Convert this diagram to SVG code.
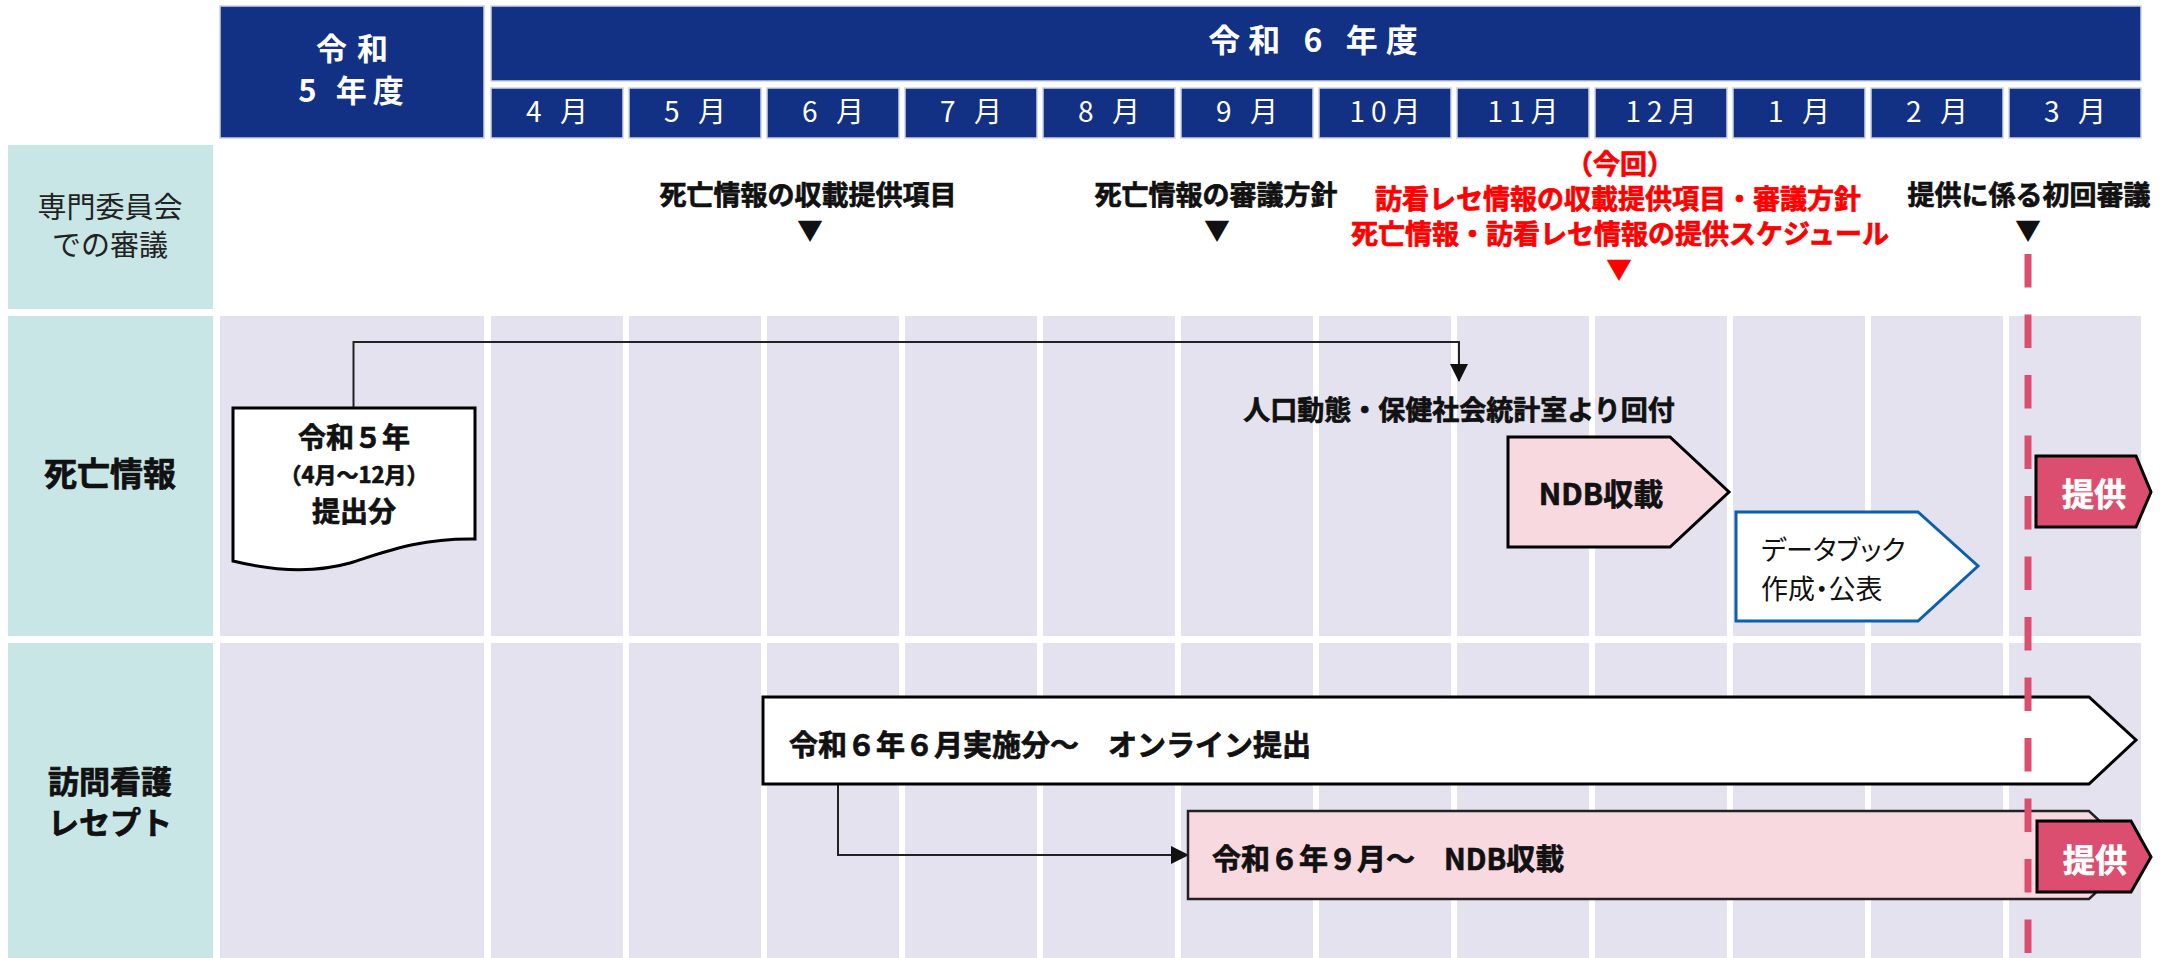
<svg xmlns="http://www.w3.org/2000/svg" width="2167" height="958" viewBox="0 0 2167 958">
<defs>
<style>
text{font-family:"Noto Sans CJK JP","Noto Sans",sans-serif;dominant-baseline:central;text-anchor:middle}
.hd{fill:#133184;stroke:#CBD2E6;stroke-width:1.5}
.hdt{fill:#fff;font-weight:700;font-size:31px}
.mt{fill:#fff;font-size:28px;letter-spacing:6px}
.lab{fill:#C8E6E6}
.cell{fill:#E4E2EE}
.b{font-weight:700;fill:#111;stroke:#111;stroke-width:0.7}
.r1{font-size:27px}
.red{fill:#FF0000;stroke:#FF0000}
.tri{font-size:26px;fill:#111;stroke:none}
.conn{fill:none;stroke:#222;stroke-width:2}
.tk{fill:#fff;font-weight:700;font-size:32px;stroke:#fff;stroke-width:0.7}
.teikyo{fill:#DC4E6F;stroke:#000;stroke-width:3}
</style>
<marker id="arr" markerUnits="userSpaceOnUse" markerWidth="18" markerHeight="18" viewBox="0 0 18 18" refX="17" refY="9" orient="auto">
<path d="M0,0 L18,9 L0,18 Z" fill="#111"/>
</marker>
</defs>
<rect width="2167" height="958" fill="#fff"/>

<g id="header">
<rect class="hd" x="220" y="6" width="264" height="132"/>
<text class="hdt"><tspan x="357" y="46" style="letter-spacing:10px">令和</tspan><tspan x="354" y="88" style="letter-spacing:6px">5 年度</tspan></text>
<rect class="hd" x="491" y="6" width="1650" height="75"/>
<text class="hdt" x="1317" y="38" style="letter-spacing:8px;font-size:32px">令和 6 年度</text>
<g id="months">
<rect class="hd" x="491" y="88" width="132" height="50"/><text class="mt" x="560" y="110">4 月</text>
<rect class="hd" x="629" y="88" width="132" height="50"/><text class="mt" x="698" y="110">5 月</text>
<rect class="hd" x="767" y="88" width="132" height="50"/><text class="mt" x="836" y="110">6 月</text>
<rect class="hd" x="905" y="88" width="132" height="50"/><text class="mt" x="974" y="110">7 月</text>
<rect class="hd" x="1043" y="88" width="132" height="50"/><text class="mt" x="1112" y="110">8 月</text>
<rect class="hd" x="1181" y="88" width="132" height="50"/><text class="mt" x="1250" y="110">9 月</text>
<rect class="hd" x="1319" y="88" width="132" height="50"/><text class="mt" x="1388" y="110">10月</text>
<rect class="hd" x="1457" y="88" width="132" height="50"/><text class="mt" x="1526" y="110">11月</text>
<rect class="hd" x="1595" y="88" width="132" height="50"/><text class="mt" x="1664" y="110">12月</text>
<rect class="hd" x="1733" y="88" width="132" height="50"/><text class="mt" x="1802" y="110">1 月</text>
<rect class="hd" x="1871" y="88" width="132" height="50"/><text class="mt" x="1940" y="110">2 月</text>
<rect class="hd" x="2009" y="88" width="132" height="50"/><text class="mt" x="2078" y="110">3 月</text>
</g>
</g>

<g id="row-labels">
<rect class="lab" x="8" y="145" width="205" height="164"/>
<text style="font-size:29px;fill:#222"><tspan x="110" y="205">専門委員会</tspan><tspan x="110" y="243">での審議</tspan></text>
<rect class="lab" x="8" y="316" width="205" height="320"/>
<text class="b" x="110" y="472" style="font-size:33px">死亡情報</text>
<rect class="lab" x="8" y="643" width="205" height="315"/>
<text class="b" style="font-size:31px"><tspan x="110" y="779">訪問看護</tspan><tspan x="110" y="820">レセプト</tspan></text>
</g>

<g id="grid">
<rect class="cell" x="220" y="316" width="264" height="320"/>
<rect class="cell" x="491" y="316" width="132" height="320"/>
<rect class="cell" x="629" y="316" width="132" height="320"/>
<rect class="cell" x="767" y="316" width="132" height="320"/>
<rect class="cell" x="905" y="316" width="132" height="320"/>
<rect class="cell" x="1043" y="316" width="132" height="320"/>
<rect class="cell" x="1181" y="316" width="132" height="320"/>
<rect class="cell" x="1319" y="316" width="132" height="320"/>
<rect class="cell" x="1457" y="316" width="132" height="320"/>
<rect class="cell" x="1595" y="316" width="132" height="320"/>
<rect class="cell" x="1733" y="316" width="132" height="320"/>
<rect class="cell" x="1871" y="316" width="132" height="320"/>
<rect class="cell" x="2009" y="316" width="132" height="320"/>
<rect class="cell" x="220" y="643" width="264" height="315"/>
<rect class="cell" x="491" y="643" width="132" height="315"/>
<rect class="cell" x="629" y="643" width="132" height="315"/>
<rect class="cell" x="767" y="643" width="132" height="315"/>
<rect class="cell" x="905" y="643" width="132" height="315"/>
<rect class="cell" x="1043" y="643" width="132" height="315"/>
<rect class="cell" x="1181" y="643" width="132" height="315"/>
<rect class="cell" x="1319" y="643" width="132" height="315"/>
<rect class="cell" x="1457" y="643" width="132" height="315"/>
<rect class="cell" x="1595" y="643" width="132" height="315"/>
<rect class="cell" x="1733" y="643" width="132" height="315"/>
<rect class="cell" x="1871" y="643" width="132" height="315"/>
<rect class="cell" x="2009" y="643" width="132" height="315"/>
</g>

<g id="committee">
<text class="b r1" x="808" y="193">死亡情報の収載提供項目</text>
<text class="tri" x="810" y="228">▼</text>
<text class="b r1" x="1216" y="193">死亡情報の審議方針</text>
<text class="tri" x="1217" y="228">▼</text>
<text class="b r1 red"><tspan x="1620" y="162">（今回）</tspan><tspan x="1618" y="197">訪看レセ情報の収載提供項目・審議方針</tspan><tspan x="1620" y="232">死亡情報・訪看レセ情報の提供スケジュール</tspan></text>
<text class="tri" x="1619" y="267" style="fill:#FF0000">▼</text>
<text class="b r1" x="2029" y="193">提供に係る初回審議</text>
<text class="tri" x="2028" y="228">▼</text>
</g>

<g id="connectors">
<path class="conn" d="M353.5,408 V342 H1459 V381" marker-end="url(#arr)"/>
<path class="conn" d="M838,784 V855 H1188" marker-end="url(#arr)"/>
</g>

<g id="doc-r5">
<path d="M233,408 H475 V539 C420,538 385,552 350,563 C318,572 282,573 233,561 Z" fill="#fff" stroke="#000" stroke-width="3"/>
<text class="b"><tspan x="354" y="436" style="font-size:28px">令和５年</tspan><tspan x="354" y="473" style="font-size:22px">（4月～12月）</tspan><tspan x="354" y="510" style="font-size:28px">提出分</tspan></text>
</g>

<g id="label-kaifu">
<text class="b r1" x="1459" y="408">人口動態・保健社会統計室より回付</text>
</g>

<g id="ndb-death">
<path d="M1508,437 H1670 L1729,492 L1670,547 H1508 Z" fill="#F8D9E0" stroke="#000" stroke-width="3"/>
<text class="b" x="1601" y="492" style="font-size:30px">NDB収載</text>
</g>

<g id="databook">
<path d="M1736,512 H1918 L1978,566 L1918,621 H1736 Z" fill="#fff" stroke="#0B5FB0" stroke-width="3"/>
<text style="font-size:27px;fill:#111;text-anchor:start;font-feature-settings:'palt'"><tspan x="1761" y="548">データブック</tspan><tspan x="1761" y="587">作成・公表</tspan></text>
</g>

<g id="online">
<path d="M763,697 H2089 L2136,740 L2089,784 H763 Z" fill="#fff" stroke="#000" stroke-width="3"/>
<text class="b" x="789" y="743" style="font-size:29px;text-anchor:start">令和６年６月実施分～　オンライン提出</text>
</g>

<g id="ndb-visit">
<path d="M1188,811 H2089 L2136,855 L2089,899 H1188 Z" fill="#F8D9E0" stroke="#222" stroke-width="2.5"/>
<text class="b" x="1212" y="857" style="font-size:29px;text-anchor:start">令和６年９月～　NDB収載</text>
</g>

<g id="deadline">
<line x1="2028" y1="254" x2="2028" y2="958" stroke="#DC4E6F" stroke-width="7" stroke-dasharray="33.5 27"/>
</g>

<g id="teikyo-1">
<path class="teikyo" d="M2036,456 H2136 L2151,492 L2136,527 H2036 Z"/>
<text class="tk" x="2094" y="492">提供</text>
</g>
<g id="teikyo-2">
<path class="teikyo" d="M2037,821 H2131 L2151,857 L2131,892 H2037 Z"/>
<text class="tk" x="2095" y="858">提供</text>
</g>
</svg>
